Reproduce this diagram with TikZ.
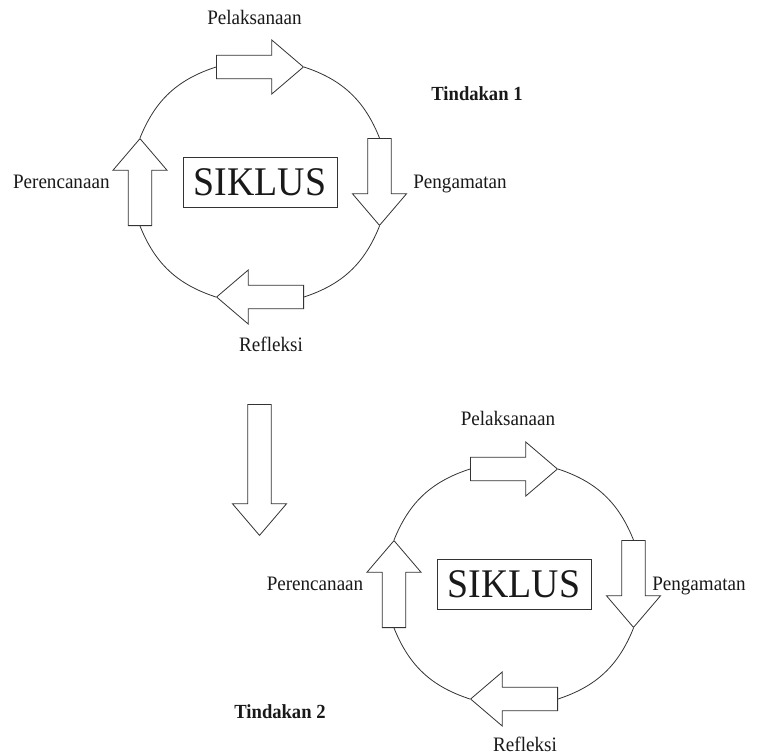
\documentclass[tikz,border=0pt]{standalone}
\usepackage{fontspec}
\setmainfont{Liberation Serif}
\newfontfamily\narrowserif[FakeStretch=0.93]{Liberation Serif}
\usetikzlibrary{shapes.arrows}
\begin{document}
\begin{tikzpicture}[x=0.75pt,y=-0.75pt,
  blockarrow/.style={single arrow, draw=black!80, fill=white, line width=0.6pt,
    inner xsep=0pt, inner ysep=8.475pt, single arrow head extend=11.5pt,
    single arrow tip angle=81, minimum height=65.25pt, minimum width=0pt, anchor=tail},
  ring/.style={draw=black!80, line width=0.6pt, bend left=25},
  lbl/.style={font=\narrowserif\fontsize{15.4pt}{17pt}\selectfont, text=black!90, anchor=base, inner sep=0pt},
  ttl/.style={font=\narrowserif\fontsize{15pt}{17pt}\selectfont\bfseries, text=black!90, anchor=base, inner sep=0pt},
  siklus/.style={draw=black!80, line width=0.6pt, minimum width=115.5pt,
    minimum height=37.5pt, inner sep=0pt, font=\narrowserif\fontsize{30.5pt}{33pt}\selectfont, text=black!90}
]
\useasboundingbox (0,0) rectangle (760,754);

% ---------- cycle 1 ----------
\node[siklus] (s1) at (260,182) {SIKLUS};
\node[blockarrow, rotate=0]   (a1) at (216,67) {};
\node[blockarrow, rotate=-90] (a2) at (379.5,138) {};
\node[blockarrow, rotate=180] (a3) at (304,297) {};
\node[blockarrow, rotate=90]  (a4) at (140,226) {};
\draw[ring] (a1.tip) to (a2.tail);
\draw[ring] (a2.tip) to (a3.tail);
\draw[ring] (a3.tip) to (a4.tail);
\draw[ring] (a4.tip) to (a1.tail);
\node[lbl] (p1) at (254.5,24) {Pelaksanaan};
\node[lbl] (g1) at (460,188.3) {Pengamatan};
\node[lbl] (r1) at (271,351.7) {Refleksi};
\node[lbl] (c1) at (61.3,188.3) {Perencanaan};
\node[ttl] (t1) at (477,100.7) {Tindakan 1};

% ---------- transition arrow ----------
\node[blockarrow, rotate=-90, minimum height=98.25pt] (big) at (259.5,404) {};

% ---------- cycle 2 ----------
\node[siklus] (s2) at (514,584) {SIKLUS};
\node[blockarrow, rotate=0]   (b1) at (470,469) {};
\node[blockarrow, rotate=-90] (b2) at (633.5,540) {};
\node[blockarrow, rotate=180] (b3) at (558,699) {};
\node[blockarrow, rotate=90]  (b4) at (394,628) {};
\draw[ring] (b1.tip) to (b2.tail);
\draw[ring] (b2.tip) to (b3.tail);
\draw[ring] (b3.tip) to (b4.tail);
\draw[ring] (b4.tip) to (b1.tail);
\node[lbl] (p2) at (508,425) {Pelaksanaan};
\node[lbl, anchor=base west] (g2) at (652,590) {Pengamatan};
\node[lbl] (r2) at (525,751) {Refleksi};
\node[lbl] (c2) at (315,590) {Perencanaan};
\node[ttl] (t2) at (280,718.3) {Tindakan 2};
\end{tikzpicture}
\end{document}
